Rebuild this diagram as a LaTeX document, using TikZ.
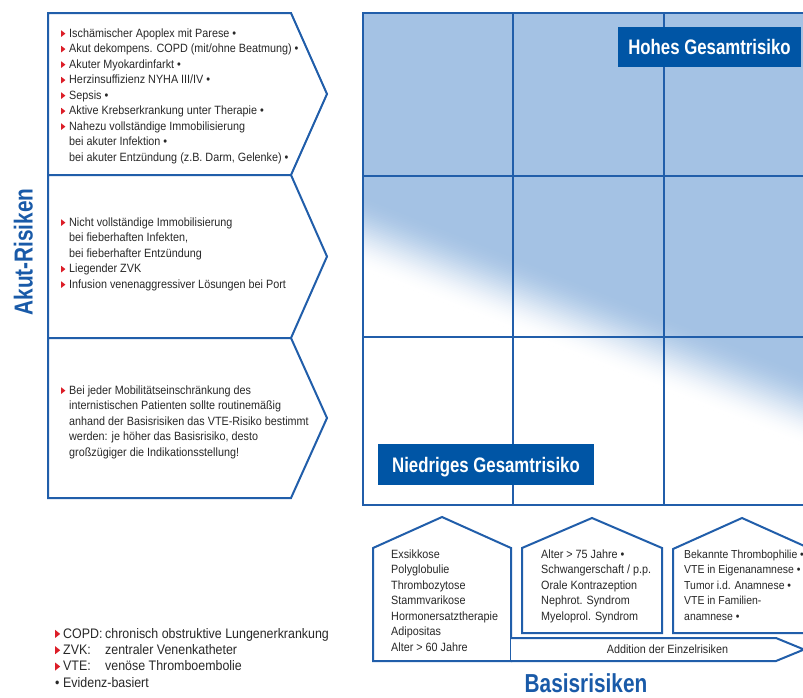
\documentclass[tikz,border=0pt]{standalone}
\usepackage{fontspec}
\setmainfont{Liberation Sans}[FakeStretch=0.9]
\newfontfamily\headfont{Liberation Sans}[FakeStretch=0.8]
\definecolor{linecol}{RGB}{33,94,170}
\definecolor{gridblue}{RGB}{164,194,228}
\definecolor{labelblue}{RGB}{0,85,165}
\definecolor{headblue}{RGB}{25,90,168}
\definecolor{txtcol}{RGB}{40,40,40}
\definecolor{bulletred}{RGB}{220,30,40}
\newcommand\bodyfont{\fontsize{12}{15.5}\selectfont}
\newcommand\legfont{\fontsize{13.8}{16.3}\selectfont}
\newcommand\rb{\makebox[8pt][l]{\tikz[x=1pt,y=1pt,baseline=0pt]\fill[bulletred](0,0.3)--(4.2,3.6)--(0,6.9)--cycle;}}
\newcommand\rbl{\makebox[8pt][l]{\tikz[x=1pt,y=1pt,baseline=0pt]\fill[bulletred](0,0.3)--(5,4.3)--(0,8.3)--cycle;}}
\newcommand\ind{\hspace*{8pt}}
\tikzset{
  frame/.style={draw=linecol, line width=2pt, fill=white, line join=miter},
  gridln/.style={draw=linecol, line width=1.8pt},
  txt/.style={anchor=north west, inner sep=0pt, align=left, text=txtcol, font=\bodyfont},
  legend/.style={anchor=north west, inner sep=0pt, align=left, text=txtcol, font=\legfont},
  lab/.style={fill=labelblue, text=white, font=\headfont\bfseries\fontsize{21}{24}\selectfont, inner sep=0pt, text height=15pt, text depth=0pt},
  heading/.style={text=headblue, font=\headfont\bfseries\fontsize{26}{30}\selectfont, inner sep=0pt, text height=19pt, text depth=0pt},
}
\begin{document}
\begin{tikzpicture}[x=1pt,y=-1pt]
\useasboundingbox (0,0) rectangle (803,697);
\clip (0,0) rectangle (803,697);
\fill[white] (0,0) rectangle (803,697);

% risk grid background
\begin{scope}
  \clip (363,13) rectangle (815,505);
  \fill[gridblue] (363,13) rectangle (815,505);
  \foreach \i [evaluate=\i as \da using -38+1.9*\i, evaluate=\i as \pc using 50+50*cos(180*(\i+0.5)/40)] in {0,...,39}
    \fill[gridblue!\pc!white] (363,{232+\da}) -- (815,{412.8+\da}) -- (815,{415.3+\da}) -- (363,{234.5+\da}) -- cycle;
  \fill[white] (363,270) -- (815,450.8) -- (815,505) -- (363,505) -- cycle;
\end{scope}
\draw[gridln] (815,13) -| (363,505) -- (815,505);
\draw[gridln] (363,176) -- (815,176) (363,337) -- (815,337);
\draw[gridln] (513,13) -- (513,505) (664,13) -- (664,505);

\node[lab, minimum width=183pt, minimum height=40pt] (hoch) at (709.5,47) {Hohes Gesamtrisiko};
\node[lab, minimum width=216pt, minimum height=41pt] (nied) at (486,464.5) {Niedriges Gesamtrisiko};

% acute risk chevrons
\draw[frame] (48,13) -- (291,13) -- (327,94) -- (291,175) -- (48,175) -- cycle;
\draw[frame] (48,175) -- (291,175) -- (327,256.5) -- (291,338) -- (48,338) -- cycle;
\draw[frame] (48,338) -- (291,338) -- (327,418) -- (291,498) -- (48,498) -- cycle;

\node[txt] (a1) at (61,26.15) {\strut\rb Ischämischer Apoplex mit Parese •\\
\rb Akut dekompens. COPD (mit/ohne Beatmung) •\\
\rb Akuter Myokardinfarkt •\\
\rb Herzinsuffizienz NYHA III/IV •\\
\rb Sepsis •\\
\rb Aktive Krebserkrankung unter Therapie •\\
\rb Nahezu vollständige Immobilisierung\\
\ind bei akuter Infektion •\\
\ind bei akuter Entzündung (z.B. Darm, Gelenke) •};

\node[txt] (a2) at (61,215.15) {\strut\rb Nicht vollständige Immobilisierung\\
\ind bei fieberhaften Infekten,\\
\ind bei fieberhafter Entzündung\\
\rb Liegender ZVK\\
\rb Infusion venenaggressiver Lösungen bei Port};

\node[txt] (a3) at (61,383.15) {\strut\rb Bei jeder Mobilitätseinschränkung des\\
\ind internistischen Patienten sollte routinemäßig\\
\ind anhand der Basisrisiken das VTE-Risiko bestimmt\\
\ind werden: je höher das Basisrisiko, desto\\
\ind großzügiger die Indikationsstellung!};

% basic risk houses
\draw[frame] (373,661) -- (373,548) -- (442,517) -- (511,548) -- (511,661) -- cycle;
\draw[frame] (522,633) -- (522,548) -- (592,518) -- (662,548) -- (662,633) -- cycle;
\draw[frame] (673,633) -- (673,549) -- (742,518) -- (811,549) -- (811,633) -- cycle;
\draw[frame] (511,638) -- (776,638) -- (804,649.5) -- (776,661) -- (511,661);
\node[inner sep=0pt, text=txtcol, font=\bodyfont, text height=8.6pt, text depth=0pt] (add) at (667.5,649.5) {Addition der Einzelrisiken};

\node[txt] (b1) at (391,547.15) {\strut Exsikkose\\ Polyglobulie\\ Thrombozytose\\ Stammvarikose\\ Hormonersatztherapie\\ Adipositas\\ Alter > 60 Jahre};
\node[txt] (b2) at (541,547.15) {\strut Alter > 75 Jahre •\\ Schwangerschaft / p.p.\\ Orale Kontrazeption\\ Nephrot. Syndrom\\ Myeloprol. Syndrom};
\node[txt, font=\fontsize{11.6}{15.5}\selectfont] (b3) at (684,547.15) {\strut Bekannte Thrombophilie •\\ VTE in Eigenanamnese •\\ Tumor i.d. Anamnese •\\ VTE in Familien-\\ anamnese •};

% headings
\node[heading, rotate=90] (akut) at (23,252) {Akut-Risiken};
\node[heading] (basis) at (586,683) {Basisrisiken};

% legend
\node[legend] (leg) at (55,626.6) {\strut\rbl\makebox[42pt][l]{COPD:}chronisch obstruktive Lungenerkrankung\\
\rbl\makebox[42pt][l]{ZVK:}zentraler Venenkatheter\\
\rbl\makebox[42pt][l]{VTE:}venöse Thromboembolie\\
\makebox[8pt][l]{•}Evidenz-basiert};
\end{tikzpicture}
\end{document}
